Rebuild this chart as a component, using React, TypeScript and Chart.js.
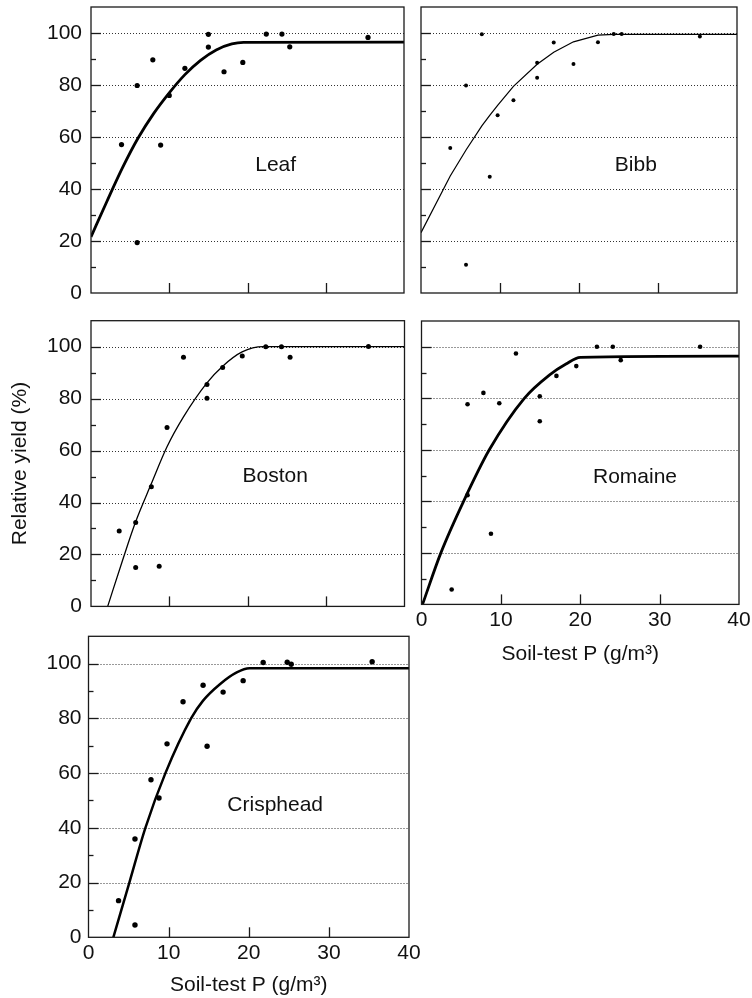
import React, { useEffect, useRef } from 'react';
import { Chart, registerables } from 'chart.js';
Chart.register(...registerables);

const PAGE_W = 752;
const PAGE_H = 998;
const FONT = "'Liberation Sans', Arial, Helvetica, sans-serif";
const INK = '#111';

// ---------- data ----------
const X_TICK_LABELS = ['0', '10', '20', '30', '40'];
const Y_TICK_LABELS = ['0', '20', '40', '60', '80', '100'];
const GRID_LEVELS = [20, 40, 60, 80, 100];
const X_TITLE = 'Soil-test P (g/m³)';
const Y_TITLE = 'Relative yield (%)';

const leafX = [3.9, 5.9, 5.9, 7.9, 8.9, 10, 12, 15, 15, 17, 19.4, 22.4, 24.4, 25.4, 35.4];
const leafY = [57.1, 79.8, 19.4, 89.7, 56.9, 76, 86.4, 99.5, 94.6, 85.1, 88.7, 99.6, 99.6, 94.7, 98.3];
const leafCurveX = [0, 2, 4, 6, 8, 10, 12, 14, 16, 18, 19.5, 40];
const leafCurveY = [21.6, 35, 48, 59.5, 69, 77, 84, 89.5, 93.5, 95.8, 96.4, 96.5];

const bibbX = [3.7, 5.7, 5.7, 7.7, 8.7, 9.7, 11.7, 14.7, 14.7, 16.8, 19.3, 22.4, 24.4, 25.4, 35.3];
const bibbY = [55.8, 79.8, 10.9, 99.5, 44.7, 68.4, 74.1, 88.6, 82.8, 96.3, 88.1, 96.4, 99.6, 99.6, 98.7];
const bibbCurveX = [0, 3.7, 5.7, 7.7, 8.7, 9.7, 11.7, 14.7, 16.8, 19.3, 22.4, 24.4, 40];
const bibbCurveY = [23.2, 45, 55, 64.3, 68.3, 72.2, 79.5, 88, 92.6, 96.6, 99.2, 99.5, 99.5];

const bostonX = [3.6, 5.7, 5.7, 7.7, 8.7, 9.7, 11.8, 14.8, 14.8, 16.8, 19.3, 22.3, 24.3, 25.4, 35.4];
const bostonY = [29, 32.3, 15, 46.1, 15.5, 68.9, 95.9, 85.4, 80.1, 92, 96.4, 100, 100, 95.9, 100.1];
const bostonCurveX = [2.13, 4, 5.66, 7.66, 9.7, 11.8, 14.77, 16.8, 19.28, 22, 40];
const bostonCurveY = [0, 17.5, 32.3, 47, 61.5, 73, 86, 92.5, 98, 100, 100];

const romaineX = [3.8, 5.8, 5.8, 7.8, 8.75, 9.8, 11.9, 14.9, 14.9, 17, 19.5, 22.1, 24.1, 25.1, 35.1];
const romaineY = [5.8, 77.7, 42.4, 82.1, 27.4, 78.1, 97.4, 80.8, 71.1, 88.7, 92.5, 100, 100, 94.8, 100];
const romaineCurveX = [0.13, 2.44, 5.3, 8.54, 12.95, 16.1, 18.2, 20, 40];
const romaineCurveY = [0, 20, 40, 60, 80, 89, 93.3, 95.9, 96.4];

const crispX = [3.75, 5.8, 5.8, 7.8, 8.8, 9.8, 11.8, 14.3, 14.8, 16.8, 19.3, 21.8, 24.8, 25.3, 35.4];
const crispY = [13.4, 35.9, 4.5, 57.6, 50.9, 70.7, 86.1, 92.1, 69.8, 89.6, 93.8, 100.4, 100.5, 99.8, 100.7];
const crispCurveX = [3.1, 5.1, 7.1, 9.6, 12.8, 14.3, 16.4, 18.5, 20.1, 40];
const crispCurveY = [0, 20, 40, 60, 80, 86.5, 92.5, 96.8, 98.3, 98.3];

const zip = (xs: number[], ys: number[]) => xs.map((x, i) => ({ x, y: ys[i] }));

type Panel = {
  name: string;
  pts: { x: number; y: number }[];
  curve: { x: number; y: number }[];
  area: { l: number; t: number; r: number; b: number };
  dot: number;
  lw: number;
  monotone: boolean;
  showY: boolean;
  showX: boolean;
  yTitle: boolean;
  xTitle: boolean;
  xh: number;
  yw: number;
  ypad: number;
  labelAt: { x: number; y: number };
};

const PANELS: Panel[] = [
  {
    name: 'Leaf', pts: zip(leafX, leafY), curve: zip(leafCurveX, leafCurveY),
    area: { l: 91, t: 7, r: 404, b: 293 }, dot: 2.6, lw: 2.8, monotone: true,
    showY: true, showX: false, yTitle: false, xTitle: false, xh: 0, yw: 70, ypad: 9,
    labelAt: { x: 23.6, y: 49.2 },
  },
  {
    name: 'Bibb', pts: zip(bibbX, bibbY), curve: zip(bibbCurveX, bibbCurveY),
    area: { l: 421, t: 7, r: 737, b: 293 }, dot: 2.0, lw: 1.2, monotone: false,
    showY: false, showX: false, yTitle: false, xTitle: false, xh: 0, yw: 10, ypad: 9,
    labelAt: { x: 27.2, y: 49.2 },
  },
  {
    name: 'Boston', pts: zip(bostonX, bostonY), curve: zip(bostonCurveX, bostonCurveY),
    area: { l: 91, t: 320.7, r: 404.5, b: 606.4 }, dot: 2.5, lw: 1.3, monotone: true,
    showY: true, showX: false, yTitle: true, xTitle: false, xh: 0, yw: 91, ypad: 9,
    labelAt: { x: 23.5, y: 50.3 },
  },
  {
    name: 'Romaine', pts: zip(romaineX, romaineY), curve: zip(romaineCurveX, romaineCurveY),
    area: { l: 421.5, t: 321, r: 739, b: 604.4 }, dot: 2.3, lw: 2.8, monotone: true,
    showY: false, showX: true, yTitle: false, xTitle: true, xh: 62, yw: 10, ypad: 9,
    labelAt: { x: 26.9, y: 49.5 },
  },
  {
    name: 'Crisphead', pts: zip(crispX, crispY), curve: zip(crispCurveX, crispCurveY),
    area: { l: 88.5, t: 636.3, r: 409, b: 937.3 }, dot: 2.7, lw: 2.5, monotone: true,
    showY: true, showX: true, yTitle: false, xTitle: true, xh: 61, yw: 70, ypad: 7,
    labelAt: { x: 23.3, y: 48.4 },
  },
];

const panelPlugin = {
  id: 'panelDeco',
  beforeDatasetsDraw(chart: any) {
    const { ctx, chartArea, scales } = chart;
    const ys = scales.y;
    ctx.save();
    ctx.strokeStyle = '#333';
    ctx.lineWidth = 1;
    ctx.setLineDash([1, 2]);
    for (const v of GRID_LEVELS) {
      const py = Math.round(ys.getPixelForValue(v)) + 0.5;
      ctx.beginPath();
      ctx.moveTo(chartArea.left, py);
      ctx.lineTo(chartArea.right, py);
      ctx.stroke();
    }
    ctx.restore();
  },
  afterDatasetsDraw(chart: any, _args: any, opts: any) {
    const { ctx, chartArea, scales } = chart;
    const { left, top, right, bottom } = chartArea;
    ctx.save();
    ctx.strokeStyle = '#1a1a1a';
    ctx.lineWidth = 1.3;
    ctx.setLineDash([]);
    for (const t of scales.y.ticks) {
      const v = t.value;
      if (v <= 0 || v >= 110) continue;
      const py = Math.round(scales.y.getPixelForValue(v)) + 0.5;
      const len = v % 20 === 0 ? 10 : 5;
      ctx.beginPath();
      ctx.moveTo(left, py);
      ctx.lineTo(left + len, py);
      ctx.stroke();
    }
    for (const t of scales.x.ticks) {
      const v = t.value;
      if (v <= 0 || v >= 40) continue;
      const px = Math.round(scales.x.getPixelForValue(v)) + 0.5;
      ctx.beginPath();
      ctx.moveTo(px, bottom);
      ctx.lineTo(px, bottom - 10);
      ctx.stroke();
    }
    ctx.strokeRect(left, top, right - left, bottom - top);
    ctx.fillStyle = INK;
    ctx.font = `21px ${FONT}`;
    ctx.textAlign = 'center';
    ctx.textBaseline = 'middle';
    ctx.fillText(opts.label, scales.x.getPixelForValue(opts.lx), scales.y.getPixelForValue(opts.ly));
    ctx.restore();
  },
};

function PanelChart({ p }: { p: Panel }) {
  const ref = useRef<HTMLCanvasElement | null>(null);
  useEffect(() => {
    if (!ref.current) return;
    const a = p.area;
    const chart = new Chart(ref.current, {
      type: 'scatter',
      data: {
        datasets: [
          {
            type: 'line',
            data: p.curve,
            borderColor: '#000',
            borderWidth: p.lw,
            pointRadius: 0,
            fill: false,
            tension: 0,
            cubicInterpolationMode: p.monotone ? 'monotone' : 'default',
            order: 2,
          } as any,
          {
            type: 'scatter',
            data: p.pts,
            backgroundColor: '#000',
            borderColor: '#000',
            pointRadius: p.dot,
            pointBorderWidth: 0,
            order: 1,
          } as any,
        ],
      },
      options: {
        responsive: false,
        animation: false,
        events: [],
        layout: {
          padding: {
            left: a.l - p.yw,
            top: a.t,
            right: PAGE_W - a.r,
            bottom: PAGE_H - a.b - p.xh,
          },
        },
        plugins: {
          legend: { display: false },
          tooltip: { enabled: false },
          panelDeco: { label: p.name, lx: p.labelAt.x, ly: p.labelAt.y },
        } as any,
        scales: {
          x: {
            type: 'linear',
            min: 0,
            max: 40,
            ticks: {
              stepSize: 10,
              display: p.showX,
              color: INK,
              font: { size: 21, family: FONT },
              padding: 3,
              maxRotation: 0,
              autoSkip: false,
              callback: (v: any) => X_TICK_LABELS[Math.round(Number(v) / 10)] ?? '',
            },
            grid: { display: false, drawTicks: false },
            border: { display: false },
            title: {
              display: p.xTitle,
              text: X_TITLE,
              color: INK,
              font: { size: 21, family: FONT },
              padding: 0,
            },
            afterFit: (s: any) => {
              s.height = p.xh;
              s.paddingLeft = 0;
              s.paddingRight = 0;
            },
          },
          y: {
            type: 'linear',
            min: 0,
            max: 110,
            ticks: {
              stepSize: 10,
              display: p.showY,
              color: INK,
              font: { size: 21, family: FONT },
              padding: p.ypad,
              autoSkip: false,
              callback: (v: any) => {
                const n = Number(v);
                return n % 20 === 0 ? Y_TICK_LABELS[n / 20] ?? '' : '';
              },
            },
            grid: { display: false, drawTicks: false },
            border: { display: false },
            title: {
              display: p.yTitle,
              text: Y_TITLE,
              color: INK,
              font: { size: 21, family: FONT },
              padding: { top: 8, bottom: 0 },
            },
            afterFit: (s: any) => {
              s.width = p.yw;
              s.paddingTop = 0;
              s.paddingBottom = 0;
            },
          },
        },
      } as any,
      plugins: [panelPlugin as any],
    });
    return () => chart.destroy();
  }, [p]);
  return (
    <canvas
      ref={ref}
      width={PAGE_W}
      height={PAGE_H}
      style={{ position: 'absolute', left: 0, top: 0, width: PAGE_W, height: PAGE_H }}
    />
  );
}

export default function App() {
  return (
    <div
      style={{
        position: 'absolute',
        left: 0,
        top: 0,
        width: PAGE_W,
        height: PAGE_H,
        background: '#fff',
        overflow: 'hidden',
      }}
    >
      {PANELS.map((p) => (
        <PanelChart key={p.name} p={p} />
      ))}
    </div>
  );
}
